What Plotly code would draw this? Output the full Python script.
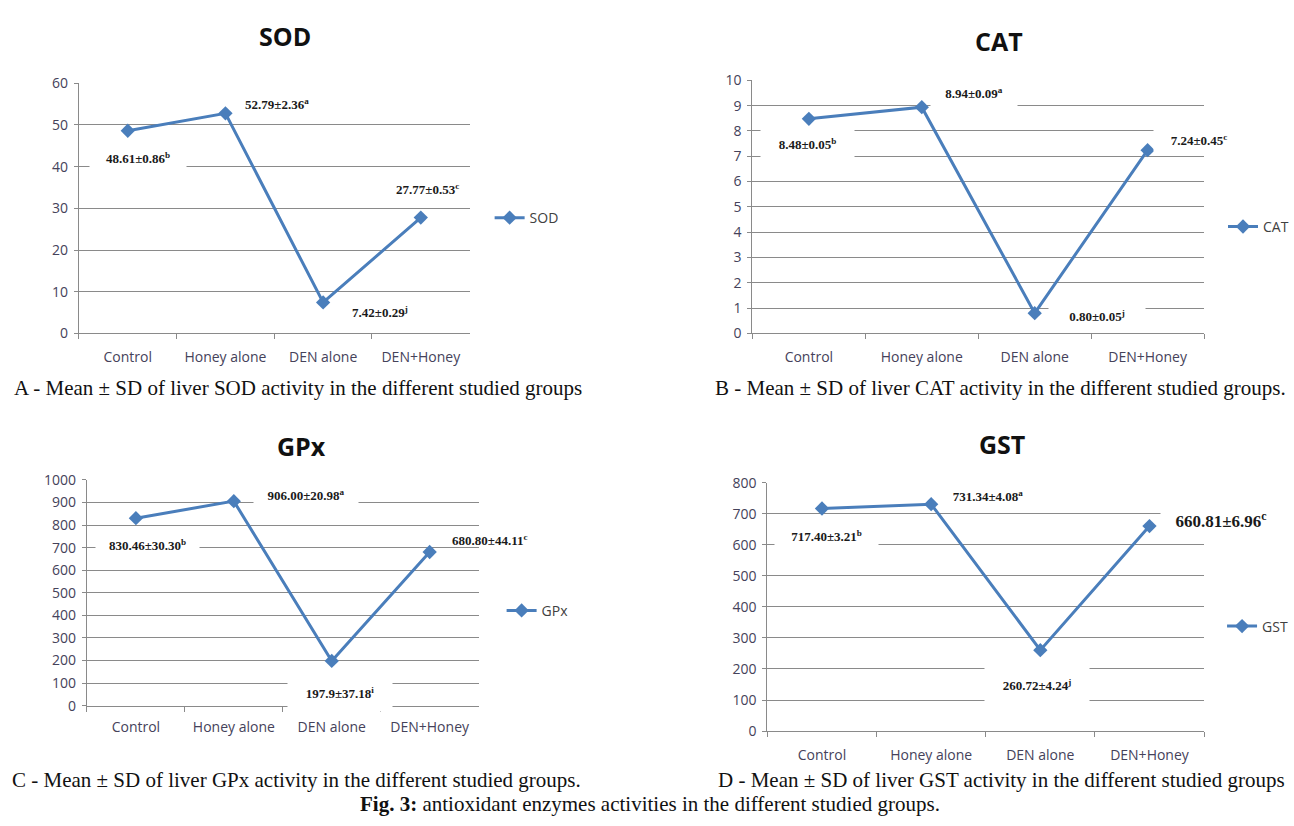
import plotly.graph_objects as go

# ---------------- data ----------------
groups = ["Control", "Honey alone", "DEN alone", "DEN+Honey"]

sod_mean = ["48.61", "52.79", "7.42", "27.77"]
sod_sd = ["0.86", "2.36", "0.29", "0.53"]
sod_sig = ["b", "a", "j", "c"]

cat_mean = ["8.48", "8.94", "0.80", "7.24"]
cat_sd = ["0.05", "0.09", "0.05", "0.45"]
cat_sig = ["b", "a", "j", "c"]

gpx_mean = ["830.46", "906.00", "197.9", "680.80"]
gpx_sd = ["30.30", "20.98", "37.18", "44.11"]
gpx_sig = ["b", "a", "i", "c"]

gst_mean = ["717.40", "731.34", "260.72", "660.81"]
gst_sd = ["3.21", "4.08", "4.24", "6.96"]
gst_sig = ["b", "a", "j", "c"]

W, H = 1294, 826
BLUE = "#4a7ebb"
GRID = "#8a8a8a"
TICK_COL = "#45425a"
SANS = "Open Sans"
SERIF = "Liberation Serif"


def px_x(x):
    return x / W


def px_y(y):
    return 1 - y / H


# panel geometry in pixels: (x0, x1, y_top, y_bottom, ymax, dtick, label standoff)
panels = [
    dict(name="SOD", mean=sod_mean, sd=sod_sd, sig=sod_sig,
         box=(79, 470, 75, 331), ymax=60, dtick=10, stand=11,
         title_xy=(285, 27), legend_xy=(490, 213),
         # label styles: dx, dy(px, up positive), box w, box h, white box
         labels=[(10, -27, 96, 24, True, 13), (52, 9, 0, 0, False, 13),
                 (57, -10, 0, 0, False, 13), (7, 29, 0, 0, False, 13)]),
    dict(name="CAT", mean=cat_mean, sd=cat_sd, sig=cat_sig,
         box=(753, 1205, 72, 331), ymax=10, dtick=1, stand=11,
         title_xy=(1000, 32), legend_xy=(1224, 222),
         labels=[(-1, -25, 93, 34, True, 13), (52, 14, 86, 30, True, 13),
                 (62, -3, 96, 24, True, 13), (51, 10, 90, 22, True, 13)]),
    dict(name="GPx", mean=gpx_mean, sd=gpx_sd, sig=gpx_sig,
         box=(87, 479, 481, 712), ymax=1000, dtick=100, stand=9,
         title_xy=(302, 446), legend_xy=(502, 615),
         labels=[(12, -27, 103, 24, True, 13), (72, 6, 104, 24, True, 13),
                 (8, -32, 104, 36, True, 13), (60, 12, 0, 0, False, 13)]),
    dict(name="GST", mean=gst_mean, sd=gst_sd, sig=gst_sig,
         box=(768, 1205, 484, 738), ymax=800, dtick=100, stand=11,
         title_xy=(1003, 444), legend_xy=(1223, 631),
         labels=[(5, -28, 103, 24, True, 13), (57, 8, 94, 32, True, 13),
                 (-3, -35, 104, 44, True, 13), (72, 6, 120, 26, True, 17)]),
]

fig = go.Figure()
annotations = []
layout_axes = {}

for i, p in enumerate(panels):
    k = "" if i == 0 else str(i + 1)
    xa, ya = "x" + k, "y" + k
    leg = "legend" + k
    x0, x1, yt, yb = p["box"]
    values = [float(v) for v in p["mean"]]

    fig.add_trace(go.Scatter(
        x=groups, y=values, name=p["name"], mode="lines+markers",
        line=dict(color=BLUE, width=3),
        marker=dict(symbol="diamond", size=11, color=BLUE),
        xaxis=xa, yaxis=ya, legend=leg, showlegend=True,
        hoverinfo="skip",
    ))

    layout_axes["xaxis" + k] = dict(
        domain=[px_x(x0), px_x(x1)], anchor=ya, type="category",
        categoryorder="array", categoryarray=groups, range=[-0.5, 3.5],
        showgrid=False, showline=True, linecolor=GRID, linewidth=1,
        ticks="outside", ticklen=5, tickcolor=GRID, tickson="boundaries",
        ticklabelstandoff=p["stand"],
        tickfont=dict(family=SANS, size=14, color=TICK_COL),
        fixedrange=True, zeroline=False,
    )
    layout_axes["yaxis" + k] = dict(
        domain=[px_y(yb), px_y(yt)], anchor=xa, range=[0, p["ymax"]],
        dtick=p["dtick"], tick0=0, showgrid=True, gridcolor=GRID, gridwidth=1,
        showline=True, linecolor=GRID, linewidth=1, zeroline=False,
        ticks="outside", ticklen=4, tickcolor=GRID, ticklabelstandoff=3,
        tickfont=dict(family=SANS, size=14, color=TICK_COL),
        fixedrange=True,
    )
    layout_axes[leg] = dict(
        x=px_x(p["legend_xy"][0]), y=px_y(p["legend_xy"][1]),
        xanchor="left", yanchor="middle", bgcolor="rgba(0,0,0,0)",
        font=dict(family=SANS, size=14, color="#404040"),
        borderwidth=0, itemclick=False, itemdoubleclick=False,
    )

    # chart title
    tx, ty = p["title_xy"]
    annotations.append(dict(
        text="<b>%s</b>" % p["name"], x=px_x(tx), y=px_y(ty),
        xref="paper", yref="paper", showarrow=False,
        xanchor="center", yanchor="middle",
        font=dict(family=SANS, size=25, color="#111111"),
    ))

    # data labels: mean ± SD with significance letter
    for j, (dx, dy, bw, bh, boxed, fs) in enumerate(p["labels"]):
        txt = "<b>%s±%s<sup>%s</sup></b>" % (p["mean"][j], p["sd"][j], p["sig"][j])
        ann = dict(
            text=txt, x=groups[j], y=values[j], xref=xa, yref=ya,
            showarrow=False, xanchor="center", yanchor="middle",
            xshift=dx, yshift=dy, borderpad=0,
            font=dict(family=SERIF, size=fs, color="#1a1a1a"),
        )
        if boxed:
            ann.update(bgcolor="white", width=bw, height=bh, valign="middle")
        annotations.append(ann)

# panel captions
captions = [
    ("A - Mean ± SD of liver SOD activity in the different studied groups", 12, 387),
    ("B - Mean ± SD of liver CAT activity in the different studied groups.", 714, 387),
    ("C - Mean ± SD of liver GPx activity in the different studied groups.", 10, 788),
    ("D - Mean ± SD of liver GST activity in the different studied groups", 717, 788),
]
for text, cx, cy in captions:
    annotations.append(dict(
        text=text, x=px_x(cx), y=px_y(cy), xref="paper", yref="paper",
        showarrow=False, xanchor="left", yanchor="middle",
        font=dict(family=SERIF, size=21, color="#111111"),
    ))

annotations.append(dict(
    text="<b>Fig. 3:</b> antioxidant enzymes activities in the different studied groups.",
    x=px_x(651), y=px_y(813), xref="paper", yref="paper", showarrow=False,
    xanchor="center", yanchor="middle",
    font=dict(family=SERIF, size=21, color="#111111"),
))

fig.update_layout(
    width=W, height=H, autosize=False,
    margin=dict(l=0, r=0, t=0, b=0, pad=0),
    paper_bgcolor="white", plot_bgcolor="white",
    annotations=annotations,
    **layout_axes,
)

fig.write_html("out.html", config={"displayModeBar": False})
